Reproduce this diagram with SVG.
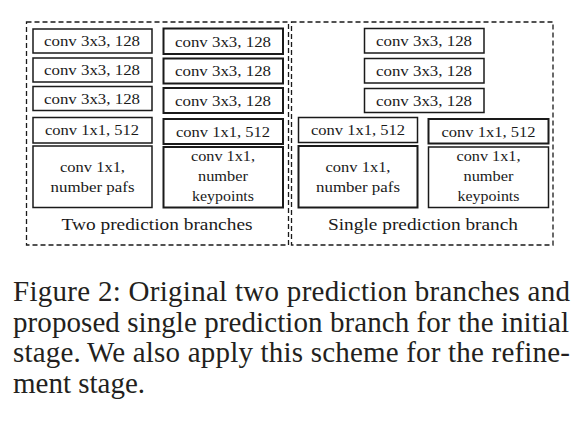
<svg xmlns="http://www.w3.org/2000/svg" width="582" height="435" viewBox="0 0 582 435">
<style>
.bx{fill:#fff;stroke:#1a1a1a;stroke-width:1.5}
.bx2{fill:#fff;stroke:#1a1a1a;stroke-width:2}
.dash{fill:none;stroke:#1a1a1a;stroke-width:1.3;stroke-dasharray:5,3}
.t{font-family:"Liberation Serif","Times New Roman",serif;font-size:14px;fill:#1a1a1a;text-anchor:middle}
.lb{font-family:"Liberation Serif","Times New Roman",serif;font-size:16.5px;fill:#1a1a1a;text-anchor:middle}
.cap{font-family:"Liberation Serif","Times New Roman",serif;font-size:29px;fill:#231f20}
</style>
<rect width="582" height="435" fill="#fff"/>
<g id="panel-two">
<rect class="dash" x="26.5" y="22" width="262" height="223"/>
<text class="lb" x="157" y="230" textLength="191" lengthAdjust="spacingAndGlyphs">Two prediction branches</text>
</g>
<g id="panel-single">
<rect class="dash" x="291.5" y="22" width="261.5" height="223"/>
<text class="lb" x="423" y="230" textLength="190" lengthAdjust="spacingAndGlyphs">Single prediction branch</text>
</g>
<g id="connectors"></g>
<g id="a1"><rect class="bx" x="33" y="29" width="119" height="24"/><text class="t" x="92" y="46" textLength="96" lengthAdjust="spacingAndGlyphs">conv 3x3, 128</text></g>
<g id="a2"><rect class="bx" x="33" y="58" width="119" height="24"/><text class="t" x="92" y="75" textLength="96" lengthAdjust="spacingAndGlyphs">conv 3x3, 128</text></g>
<g id="a3"><rect class="bx" x="33" y="86.5" width="119" height="24"/><text class="t" x="92" y="103.5" textLength="96" lengthAdjust="spacingAndGlyphs">conv 3x3, 128</text></g>
<g id="a4"><rect class="bx" x="33" y="117.5" width="119" height="25.5"/><text class="t" x="92" y="135" textLength="94" lengthAdjust="spacingAndGlyphs">conv 1x1, 512</text></g>
<g id="a5"><rect class="bx" x="33" y="146" width="119" height="61.5"/><text class="t" x="92.5" y="171.5" textLength="65" lengthAdjust="spacingAndGlyphs">conv 1x1,</text><text class="t" x="92.5" y="191.5" textLength="84" lengthAdjust="spacingAndGlyphs">number pafs</text></g>
<g id="b1"><rect class="bx2" x="163.5" y="28.5" width="119.5" height="25.5"/><text class="t" x="223" y="46.5" textLength="96" lengthAdjust="spacingAndGlyphs">conv 3x3, 128</text></g>
<g id="b2"><rect class="bx2" x="163.5" y="58.5" width="119.5" height="25"/><text class="t" x="223" y="76" textLength="96" lengthAdjust="spacingAndGlyphs">conv 3x3, 128</text></g>
<g id="b3"><rect class="bx2" x="163.5" y="88" width="119.5" height="25"/><text class="t" x="223" y="105.5" textLength="96" lengthAdjust="spacingAndGlyphs">conv 3x3, 128</text></g>
<g id="b4"><rect class="bx2" x="163.5" y="119" width="119.5" height="25"/><text class="t" x="223" y="136.5" textLength="94" lengthAdjust="spacingAndGlyphs">conv 1x1, 512</text></g>
<g id="b5"><rect class="bx2" x="163.5" y="147" width="119.5" height="60.5"/><text class="t" x="223" y="161" textLength="64" lengthAdjust="spacingAndGlyphs">conv 1x1,</text><text class="t" x="223" y="181" textLength="50" lengthAdjust="spacingAndGlyphs">number</text><text class="t" x="223" y="200.5" textLength="62" lengthAdjust="spacingAndGlyphs">keypoints</text></g>
<g id="c1"><rect class="bx" x="364.5" y="28.5" width="119.5" height="24.5"/><text class="t" x="424" y="46" textLength="96" lengthAdjust="spacingAndGlyphs">conv 3x3, 128</text></g>
<g id="c2"><rect class="bx" x="364.5" y="58.5" width="119.5" height="24.5"/><text class="t" x="424" y="76" textLength="96" lengthAdjust="spacingAndGlyphs">conv 3x3, 128</text></g>
<g id="c3"><rect class="bx" x="364.5" y="88.5" width="119.5" height="24"/><text class="t" x="424" y="105.5" textLength="96" lengthAdjust="spacingAndGlyphs">conv 3x3, 128</text></g>
<g id="c4"><rect class="bx" x="298.5" y="117.5" width="119" height="25"/><text class="t" x="358" y="135" textLength="94" lengthAdjust="spacingAndGlyphs">conv 1x1, 512</text></g>
<g id="c5"><rect class="bx2" x="298.5" y="146" width="119" height="61.5"/><text class="t" x="358" y="171.5" textLength="65" lengthAdjust="spacingAndGlyphs">conv 1x1,</text><text class="t" x="358" y="191.5" textLength="84" lengthAdjust="spacingAndGlyphs">number pafs</text></g>
<g id="d4"><rect class="bx2" x="428.5" y="119" width="120" height="24.5"/><text class="t" x="488.5" y="136.5" textLength="94" lengthAdjust="spacingAndGlyphs">conv 1x1, 512</text></g>
<g id="d5"><rect class="bx" x="428.5" y="147" width="120" height="60.5"/><text class="t" x="488.5" y="161" textLength="64" lengthAdjust="spacingAndGlyphs">conv 1x1,</text><text class="t" x="488.5" y="181" textLength="50" lengthAdjust="spacingAndGlyphs">number</text><text class="t" x="488.5" y="200.5" textLength="62" lengthAdjust="spacingAndGlyphs">keypoints</text></g>
<g id="caption">
<text class="cap" x="13" y="301" textLength="557" lengthAdjust="spacing">Figure 2: Original two prediction branches and</text>
<text class="cap" x="13" y="331.5" textLength="556" lengthAdjust="spacing">proposed single prediction branch for the initial</text>
<text class="cap" x="13" y="362" textLength="557" lengthAdjust="spacing">stage.<tspan dx="6">We also apply this scheme for the refine-</tspan></text>
<text class="cap" x="13" y="392.5">ment stage.</text>
</g>
</svg>
